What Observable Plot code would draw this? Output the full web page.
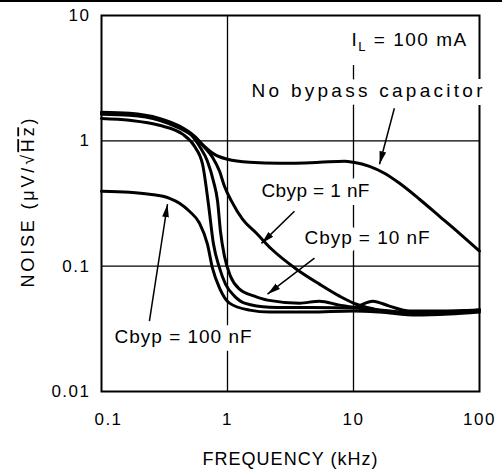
<!DOCTYPE html>
<html><head><meta charset="utf-8">
<script src="https://cdn.jsdelivr.net/npm/d3@7"></script>
<script src="https://cdn.jsdelivr.net/npm/@observablehq/plot@0.6"></script>
<style>
html,body{margin:0;padding:0;background:#fff;}
#wrap{position:relative;width:502px;height:471px;overflow:hidden;}
#rule{position:absolute;left:0;top:0;width:502px;height:2px;background:#000;}
</style></head><body>
<div id="wrap"><div id="chart"></div><div id="rule"></div></div>
<script>
// ---- data ----
const seriesNames = ["No bypass capacitor", "Cbyp = 1 nF", "Cbyp = 10 nF", "unlabeled", "Cbyp = 100 nF"];

const noBypassFreq  = [0.1, 0.167, 0.288, 0.416, 0.547, 0.656, 0.789, 1.0, 1.5, 2.59, 5.37, 8.48, 10, 13.4, 17.6, 23.2, 33.4, 48.2, 69.3, 100];
const noBypassNoise = [1.69, 1.66, 1.51, 1.31, 1.09, 0.904, 0.78, 0.713, 0.674, 0.662, 0.674, 0.687, 0.674, 0.626, 0.551, 0.458, 0.342, 0.25, 0.183, 0.132];

const c1nFreq  = [0.1, 0.167, 0.288, 0.416, 0.547, 0.656, 0.76, 0.865, 0.946, 1.076, 1.315, 1.698, 2.234, 3.53, 5.37, 7.74, 10, 14.7, 23.2, 48.2, 100];
const c1nNoise = [1.63, 1.60, 1.46, 1.26, 1.07, 0.89, 0.739, 0.571, 0.434, 0.33, 0.237, 0.183, 0.137, 0.0946, 0.0719, 0.0577, 0.0507, 0.0454, 0.0422, 0.043, 0.0446];

const c10nFreq  = [0.1, 0.167, 0.288, 0.416, 0.499, 0.6, 0.693, 0.774, 0.834, 0.879, 0.946, 1.056, 1.245, 1.637, 2.076, 3.73, 5.37, 7.74, 10, 14.2, 19.3, 27.8, 48.2, 100];
const c10nNoise = [1.66, 1.63, 1.48, 1.28, 1.15, 0.904, 0.687, 0.475, 0.33, 0.19, 0.12, 0.0832, 0.0656, 0.0577, 0.0536, 0.0507, 0.0526, 0.0489, 0.0471, 0.0526, 0.048, 0.0438, 0.0438, 0.0446];

const unlabFreq  = [0.1, 0.167, 0.288, 0.44, 0.547, 0.634, 0.706, 0.774, 0.865, 0.964, 1.136, 1.365, 2.154, 10, 16.1, 31.6, 57.8, 100];
const unlabNoise = [1.51, 1.46, 1.33, 1.13, 0.904, 0.65, 0.312, 0.15, 0.0964, 0.0719, 0.0577, 0.0507, 0.0471, 0.0463, 0.0446, 0.0422, 0.043, 0.0446];

const c100nFreq  = [0.1, 0.167, 0.24, 0.347, 0.416, 0.499, 0.6, 0.693, 0.76, 0.865, 1.037, 1.495, 2.154, 4.47, 10, 16.1, 31.6, 57.8, 100];
const c100nNoise = [0.396, 0.389, 0.375, 0.348, 0.318, 0.274, 0.22, 0.15, 0.0964, 0.0668, 0.0507, 0.0446, 0.043, 0.043, 0.0438, 0.043, 0.0407, 0.0415, 0.043];

const xTicks = [0.1, 1, 10, 100];
const xTickLabels = ["0.1", "1", "10", "100"];
const yTicks = [0.01, 0.1, 1, 10];
const yTickLabels = ["0.01", "0.1", "1", "10"];
const gridXFull = [1];
const gridXPartial = [10];
const gridY = [0.1, 1];

const labelTexts = ["No bypass capacitor", "Cbyp = 1 nF", "Cbyp = 10 nF", "Cbyp = 100 nF"];
const labelFreq  = [12.8, 4.99, 12.8, 0.444];
const labelNoise = [2.48, 0.396, 0.167, 0.0272];
const currentLabel = {text: "IL = 100 mA", f: 10, n: 6.44};

const arrowFrom = [[21.1, 1.82], [3.40, 0.274], [4.90, 0.116], [0.240, 0.0365]];
const arrowTo   = [[16.1, 0.65], [1.86, 0.152], [2.076, 0.0598], [0.334, 0.312]];

// ---- build tables ----
const allF = [noBypassFreq, c1nFreq, c10nFreq, unlabFreq, c100nFreq];
const allN = [noBypassNoise, c1nNoise, c10nNoise, unlabNoise, c100nNoise];
const rows = seriesNames.flatMap((s, k) => allF[k].map((f, i) => ({series: s, f, n: allN[k][i]})));
const labels = labelTexts.map((t, i) => ({text: t, f: labelFreq[i], n: labelNoise[i]}));
const arrows = arrowFrom.map((a, i) => ({x1: a[0], y1: a[1], x2: arrowTo[i][0], y2: arrowTo[i][1]}));

const labelWidth = {"No bypass capacitor": 231, "Cbyp = 1 nF": 108, "Cbyp = 10 nF": 125, "Cbyp = 100 nF": 137};
const FONT = "'Liberation Sans', Arial, sans-serif";

const svgPlot = Plot.plot({
  width: 502, height: 471,
  marginLeft: 101, marginRight: 23, marginTop: 15, marginBottom: 80,
  style: {fontFamily: FONT, background: "white", color: "black"},
  x: {type: "log", domain: [0.1, 100]},
  y: {type: "log", domain: [0.01, 10]},
  marks: [
    Plot.ruleY(gridY, {stroke: "black", strokeWidth: 1.3}),
    Plot.ruleX(gridXFull, {y1: 0.01, y2: 10, stroke: "black", strokeWidth: 1.3}),
    Plot.ruleX(gridXPartial, {y1: 0.01, y2: 4, stroke: "black", strokeWidth: 1.3}),
    Plot.frame({stroke: "black", strokeWidth: 2}),
    Plot.axisX({ticks: xTicks, tickFormat: d => xTickLabels[xTicks.indexOf(d)], tickSize: 0, tickPadding: 21, fontSize: 17, label: null, fill: "black"}),
    Plot.axisY({ticks: yTicks, tickFormat: d => yTickLabels[yTicks.indexOf(d)], tickSize: 0, tickPadding: 11, fontSize: 17, label: null, fill: "black"}),
    // white halo (separate pass), then the text itself
    Plot.text(labels, {x: "f", y: "n", text: "text", fontSize: 19, fill: "white", stroke: "white", strokeWidth: 16, strokeLinejoin: "round"}),
    Plot.text([currentLabel], {x: "f", y: "n", text: "text", textAnchor: "start", dx: -2, fontSize: 19, fill: "white", stroke: "white", strokeWidth: 12, strokeLinejoin: "round"}),
    Plot.text(labels, {x: "f", y: "n", text: "text", fontSize: 19, fill: "black"}),
    Plot.text([currentLabel], {x: "f", y: "n", text: "text", textAnchor: "start", dx: -2, fontSize: 19, fill: "black"}),
    Plot.line(rows, {x: "f", y: "n", z: "series", stroke: "black", strokeWidth: 3, curve: "monotone-x", strokeLinejoin: "round"}),
    Plot.link(arrows, {x1: "x1", y1: "y1", x2: "x2", y2: "y2", stroke: "black", strokeWidth: 1.5, markerEnd: "arrow"})
  ]
});

const svg = d3.select(svgPlot);
// annotation widths and subscript
svg.selectAll("text").each(function() {
  const t = this.textContent;
  if (labelWidth[t]) d3.select(this).attr("textLength", labelWidth[t]).attr("lengthAdjust", "spacing");
  if (t === currentLabel.text) {
    const el = d3.select(this);
    el.text(null).style("letter-spacing", "1.5px");
    el.append("tspan").text("I");
    el.append("tspan").attr("dy", 5).attr("font-size", 13).text("L");
    el.append("tspan").attr("dy", -5).text(" = 100 mA");
  }
});
// tick label spacing
svg.selectAll('g[aria-label="x-axis tick label"] text, g[aria-label="y-axis tick label"] text').style("letter-spacing", "1.5px");
svg.selectAll('g[aria-label="x-axis tick label"] text').filter(function() { return this.textContent === "0.1"; }).attr("dx", 7);
// filled arrowheads
svg.selectAll("marker").each(function() {
  const m = d3.select(this);
  m.attr("viewBox", "-13 -5 14 10").attr("markerUnits", "userSpaceOnUse")
   .attr("markerWidth", 14).attr("markerHeight", 10)
   .attr("fill", "black").attr("stroke", "none");
  m.selectAll("path").attr("d", "M-13,-3.4L0,0L-13,3.4Z");
});
// axis titles
const ylab = svg.append("text").attr("transform", "translate(28,203) rotate(-90)")
  .attr("text-anchor", "middle").attr("dy", "0.35em").attr("font-size", 18)
  .attr("font-family", FONT).attr("fill", "black").attr("textLength", 169).attr("lengthAdjust", "spacing");
ylab.append("tspan").text("NOISE (\u03BCV/\u221A");
ylab.append("tspan").style("text-decoration", "overline").text("Hz");
ylab.append("tspan").text(")");
svg.append("text").attr("x", 290).attr("y", 465).attr("text-anchor", "middle")
  .attr("font-size", 18).attr("font-family", FONT).attr("fill", "black")
  .attr("textLength", 175).attr("lengthAdjust", "spacing").text("FREQUENCY (kHz)");

document.getElementById("chart").appendChild(svgPlot);
</script>
</body></html>
